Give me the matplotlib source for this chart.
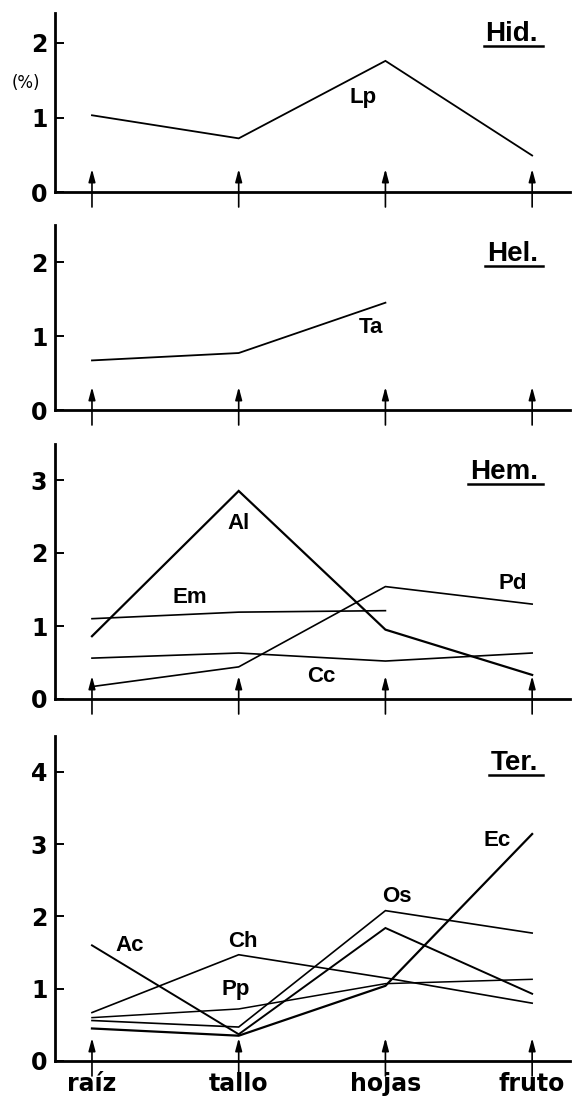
import matplotlib
matplotlib.use('Agg')
import matplotlib.pyplot as plt
from matplotlib.lines import Line2D
from matplotlib.transforms import offset_copy

# ---------------- data ----------------
categories = ['raíz', 'tallo', 'hojas', 'fruto']

hid_lp = [1.03, 0.72, 1.76, 0.49]
hel_ta = [0.67, 0.77, 1.45]
hem_al = [0.86, 2.85, 0.95, 0.33]
hem_em = [1.10, 1.19, 1.21]
hem_pd = [0.17, 0.44, 1.54, 1.30]
hem_cc = [0.56, 0.63, 0.52, 0.63]
ter_ac = [1.60, 0.37, 1.84, 0.93]
ter_ch = [0.67, 1.47, 1.15, 0.80]
ter_pp = [0.60, 0.72, 1.07, 1.13]
ter_os = [0.56, 0.47, 2.08, 1.77]
ter_ec = [0.45, 0.35, 1.04, 3.14]

panel_titles = ['Hid.', 'Hel.', 'Hem.', 'Ter.']
panel_ymax = [2.4, 2.5, 3.5, 4.5]
panel_yticks = [[0, 1, 2], [0, 1, 2], [0, 1, 2, 3], [0, 1, 2, 3, 4]]
title_y = [2.12, 2.11, 3.11, 4.12]

# series per panel: (values, label, label_x, label_y, linewidth)
panels = [
    [(hid_lp, 'Lp', 1.85, 1.27, 1.3)],
    [(hel_ta, 'Ta', 1.90, 1.11, 1.3)],
    [(hem_al, 'Al', 1.00, 2.40, 1.6),
     (hem_em, 'Em', 0.67, 1.39, 1.2),
     (hem_pd, 'Pd', 2.87, 1.58, 1.2),
     (hem_cc, 'Cc', 1.56, 0.31, 1.2)],
    [(ter_ac, 'Ac', 0.26, 1.60, 1.4),
     (ter_ch, 'Ch', 1.03, 1.66, 1.2),
     (ter_pp, 'Pp', 0.98, 0.99, 1.1),
     (ter_os, 'Os', 2.08, 2.28, 1.2),
     (ter_ec, 'Ec', 2.76, 3.05, 1.6)],
]

# ---------------- layout ----------------
W, H = 582, 1104
DPI = 100
fig = plt.figure(figsize=(W / DPI, H / DPI), dpi=DPI)
fig.patch.set_facecolor('white')

# (bottom_px, top_px) for each panel in image coordinates (y from top)
panel_px = [(192, 13.2), (410, 225), (699, 443.5), (1061, 735.7)]
left_px, right_px = 55, 570
xlim = (-0.252, 3.258)

narrow = ['Liberation Sans Narrow', 'DejaVu Sans']
label_font = ['Liberation Sans', 'DejaVu Sans']

axes = []
for i, (bpx, tpx) in enumerate(panel_px):
    ax = fig.add_axes([left_px / W, 1 - bpx / H, (right_px - left_px) / W, (bpx - tpx) / H])
    axes.append(ax)
    ax.set_xlim(*xlim)
    ax.set_ylim(0, panel_ymax[i])
    ax.patch.set_alpha(0)
    for s in ('top', 'right'):
        ax.spines[s].set_visible(False)
    for s in ('left', 'bottom'):
        ax.spines[s].set_linewidth(2.0)
    ax.set_yticks(panel_yticks[i])
    ax.set_yticklabels([str(t) for t in panel_yticks[i]],
                       fontfamily=narrow, fontweight='bold', fontsize=17)
    ax.tick_params(axis='y', direction='in', length=6.5, width=1.4, pad=5.5)
    ax.set_xticks(range(len(categories)))
    if i == 3:
        ax.set_xticklabels(categories, fontfamily=['DejaVu Sans'], fontweight='bold', fontsize=17)
        ax.tick_params(axis='x', length=0, pad=8)
    else:
        ax.set_xticklabels([])
        ax.tick_params(axis='x', length=0)

    # data lines
    for vals, lab, lx, ly, lw in panels[i]:
        ax.plot(range(len(vals)), vals, color='black', lw=lw, solid_joinstyle='miter',
                clip_on=False)
        ax.text(lx, ly, lab, ha='center', va='center', fontsize=16,
                fontfamily=label_font, fontweight='bold')

    # arrows at each category
    head_tr = offset_copy(ax.transData, fig=fig, x=0, y=23, units='dots')
    tail_tr = offset_copy(ax.transData, fig=fig, x=0, y=-15, units='dots')
    for k in range(len(categories)):
        ax.annotate('', xy=(k, 0), xycoords=head_tr, xytext=(k, 0), textcoords=tail_tr,
                    arrowprops=dict(arrowstyle='-|>,head_length=0.75,head_width=0.2',
                                    color='black', lw=1.2, shrinkA=0, shrinkB=0),
                    annotation_clip=False)

    # panel title
    t = ax.text(3.04, title_y[i], panel_titles[i], ha='right', va='center',
                fontsize=20, fontfamily=label_font, fontweight='bold')
    ax._title_text = t

axes[0].text(-0.45, 1.46, '(%)', ha='center', va='center', fontsize=12,
             fontfamily=['DejaVu Sans'], clip_on=False)

# underline the panel titles
fig.canvas.draw()
renderer = fig.canvas.get_renderer()
inv = fig.transFigure.inverted()
for ax in axes:
    bb = ax._title_text.get_window_extent(renderer)
    x0, y = inv.transform((bb.x0 - 2, bb.y0 + 1))
    x1, _ = inv.transform((bb.x1 + 5, bb.y0 + 1))
    fig.add_artist(Line2D([x0, x1], [y, y], transform=fig.transFigure,
                          color='black', lw=1.8))

fig.savefig('out.png', dpi=DPI, facecolor='white')
